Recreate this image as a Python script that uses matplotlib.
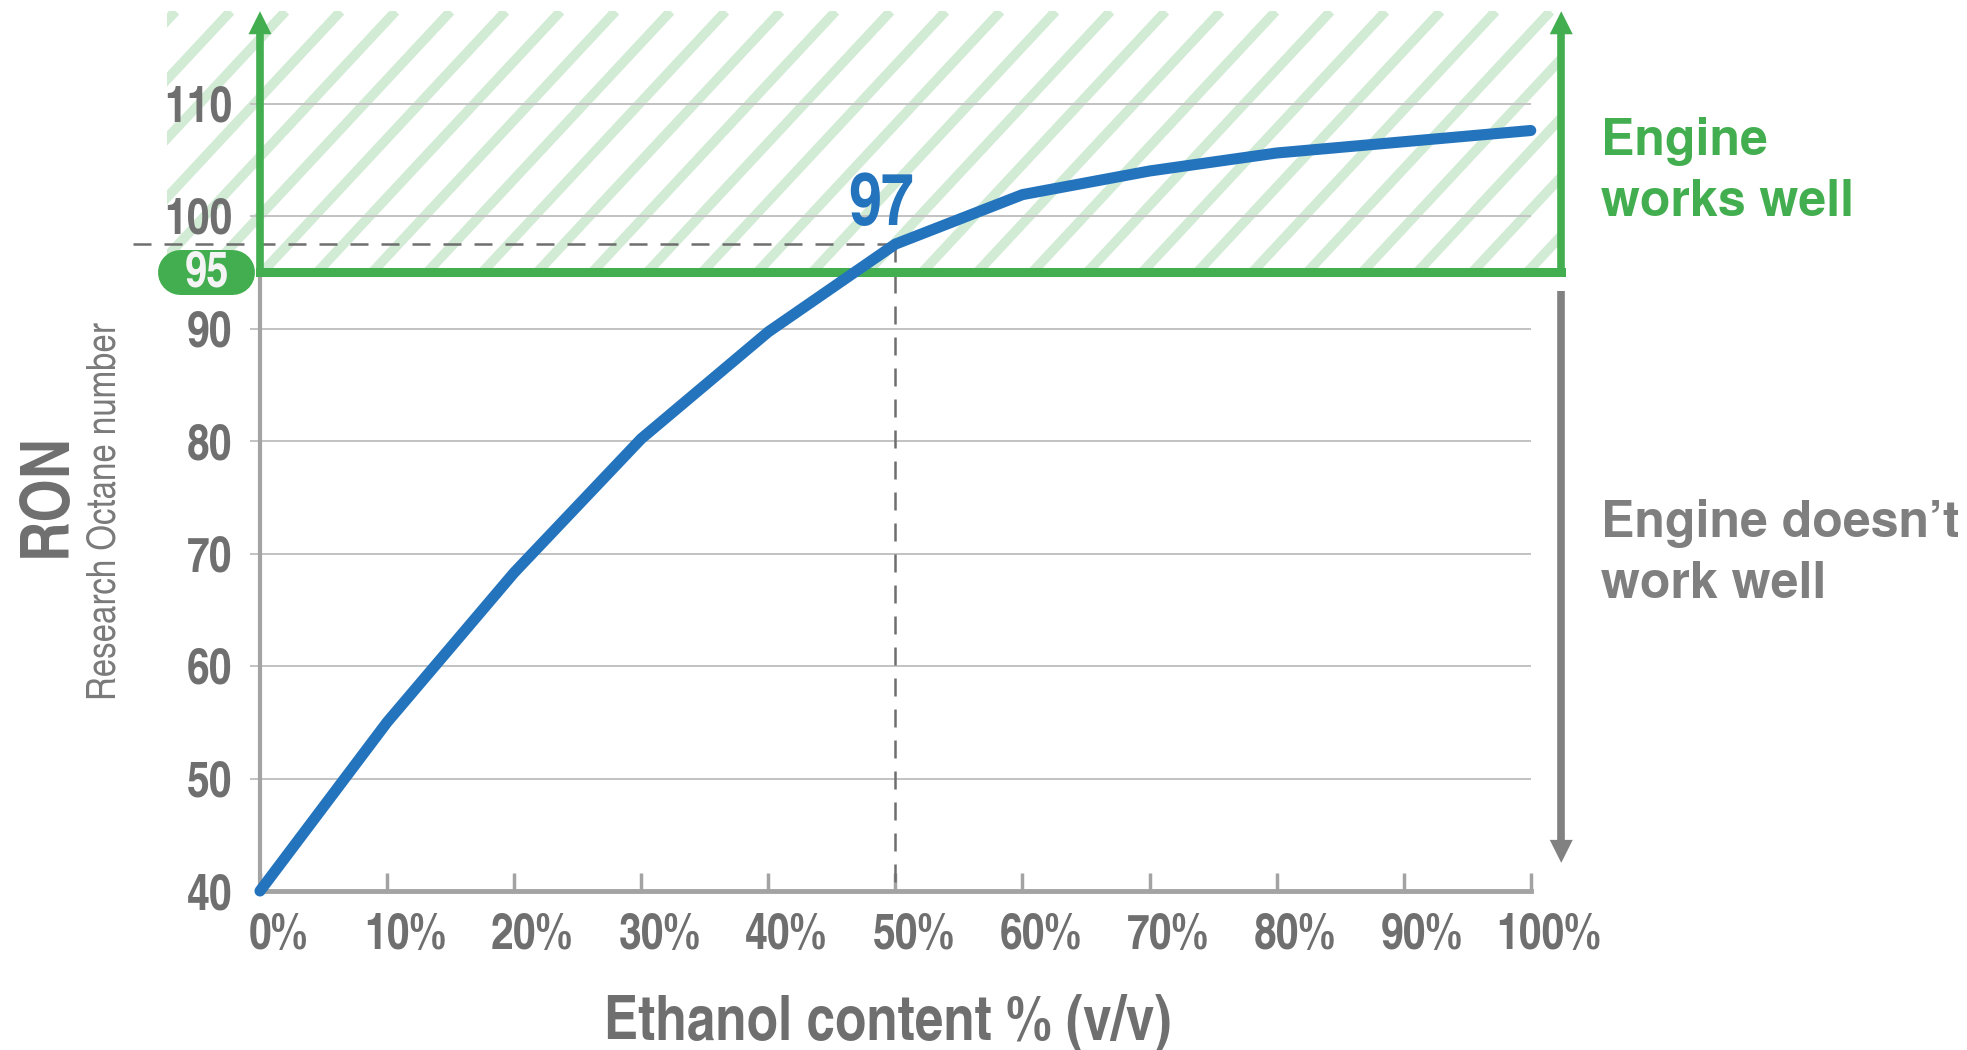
import numpy as np
import matplotlib
matplotlib.use('Agg')
import matplotlib.pyplot as plt
from matplotlib.patches import Rectangle, Polygon
from matplotlib.collections import LineCollection
from matplotlib.transforms import ScaledTranslation

# data
ethanol = [0, 10, 20, 30, 40, 50, 60, 70, 80, 90, 100]
ron = [40, 55, 68.3, 80.2, 89.7, 97.5, 101.9, 104.0, 105.6, 106.6, 107.6]
y_ticks = [40, 50, 60, 70, 80, 90, 100, 110]
x_ticks = [0, 10, 20, 30, 40, 50, 60, 70, 80, 90, 100]
x_labels = ['0%', '10%', '20%', '30%', '40%', '50%', '60%', '70%', '80%', '90%', '100%']
limite = 95          # minimum RON for the engine
limite_txt = '95'
e50_txt = '97'
i50 = 5              # index of the 50% point

GREEN = '#43ae4f'
HATCH = '#d2ebd4'
BLUE = '#2474bd'
TXT = '#6f6f6f'
AXIS = '#a3a3a3'
GRID = '#c2c2c2'
ARROW = '#818181'
DASH = '#6e6e6e'
NARROW = ['TeX Gyre Heros Cn', 'DejaVu Sans']
WIDE = ['TeX Gyre Heros', 'DejaVu Sans']

plt.rcParams['font.family'] = NARROW
plt.rcParams['font.weight'] = 'bold'

fig = plt.figure(figsize=(19.67, 10.5), dpi=100)
ax = fig.add_axes([107.5 / 1967, 136.5 / 1050, 1499.5 / 1967, 911.25 / 1050])
ax.set_xlim(-12, 106)
ax.set_ylim(38, 119)

# pixel scale of the data units (used for the decorations)
p = ax.transData.transform([(0, 40), (100, 110)])
sx = (p[1, 0] - p[0, 0]) / 100
sy = (p[1, 1] - p[0, 1]) / 70

for s in ['top', 'right']:
    ax.spines[s].set_visible(False)
ax.spines['left'].set_position(('data', 0))
ax.spines['left'].set_bounds(40, limite)
ax.spines['left'].set_color(AXIS)
ax.spines['left'].set_linewidth(3)
ax.spines['bottom'].set_position(('data', 40))
ax.spines['bottom'].set_bounds(0, 100)
ax.spines['bottom'].set_color(AXIS)
ax.spines['bottom'].set_linewidth(3.5)

ax.set_yticks(y_ticks)
ax.set_yticklabels([str(v) for v in y_ticks])
ax.set_xticks(x_ticks)
ax.set_xticklabels(x_labels)
ax.tick_params(axis='y', length=0, pad=20, labelsize=36, labelcolor=TXT)
ax.tick_params(axis='x', direction='in', length=13, width=2.5, color=AXIS,
               pad=16, labelsize=36, labelcolor=TXT)
for lab in ax.get_xticklabels():
    lab.set_transform(lab.get_transform() + ScaledTranslation(0.18, 0, fig.dpi_scale_trans))

# grid
ax.hlines(y_ticks[1:], -0.8, 100, color=GRID, lw=1.4, zorder=1.5)

# hatched "works well" zone
x0, x1, y0, y1 = -7.3, 102.4, limite, 118.2
W = (x1 - x0) * sx
H = (y1 - y0) * sy
run = H / np.tan(np.radians(47))
segs = []
for c in np.arange(40 - 55 * np.ceil(run / 55), W + 55, 55):
    segs.append([(x0 + c / sx, y0), (x0 + (c + run) / sx, y1)])
stripes = LineCollection(segs, colors=HATCH, linewidths=7, zorder=1)
ax.add_collection(stripes)
stripes.set_clip_path(Rectangle((x0, y0), x1 - x0, y1 - y0, transform=ax.transData))

# green frame with arrows
hw, hl = 11.5 / sx, 23 / sy
ax.plot([0, x1], [limite, limite], color=GREEN, lw=6.5, solid_capstyle='projecting', zorder=4)
for xa in [0, x1]:
    ax.plot([xa, xa], [limite, y1 - hl], color=GREEN, lw=5.5, solid_capstyle='butt', zorder=4)
    ax.add_patch(Polygon([(xa - hw, y1 - hl), (xa + hw, y1 - hl), (xa, y1)],
                         closed=True, color=GREEN, lw=0, zorder=4))

# gray arrow down
ax.plot([x1, x1], [93.3, 42.5 + hl], color=ARROW, lw=5.5, solid_capstyle='butt', zorder=4)
ax.add_patch(Polygon([(x1 - hw, 42.5 + hl), (x1 + hw, 42.5 + hl), (x1, 42.5)],
                     closed=True, color=ARROW, lw=0, zorder=4))

# dashed guides to the 50% point
ax.plot([-10, ethanol[i50]], [ron[i50], ron[i50]], color=DASH, lw=1.8,
        dashes=(7.2, 5.2), zorder=3, clip_on=False)
ax.plot([ethanol[i50], ethanol[i50]], [ron[i50], 39.8], color=DASH, lw=1.8,
        dashes=(7.2, 5.2), zorder=3, clip_on=False)

# curve
ax.plot(ethanol, ron, color=BLUE, lw=8, solid_capstyle='round',
        solid_joinstyle='round', zorder=6)

# 95 pill
ax.plot([-6.3, -2.2], [limite, limite], color=GREEN, lw=32.4,
        solid_capstyle='round', zorder=7, clip_on=False)
ax.text(-4.2, 93.7, limite_txt, ha='center', va='baseline', fontsize=35,
        color='#f4f4f4', zorder=8)

ax.text(48.9, 99.2, e50_txt, ha='center', va='baseline', fontsize=52, color=BLUE, zorder=8)

ax.text(105.5, 108.8, 'Engine\nworks well', ha='left', va='top', fontsize=36,
        family=WIDE, color=GREEN, linespacing=1.36)
ax.text(105.5, 74.84, 'Engine doesn’t\nwork well', ha='left', va='top', fontsize=36,
        family=WIDE, color='#7f7f7f', linespacing=1.36)

ax.text(49.4, 26.76, 'Ethanol content % (v/v)', ha='center', va='baseline',
        fontsize=45, color=TXT, clip_on=False)
ax.text(-15.3, 75.2, 'RON', rotation=90, rotation_mode='anchor', ha='center',
        va='baseline', fontsize=49, color=TXT)
ax.text(-11.4, 73.8, 'Research Octane number', rotation=90, rotation_mode='anchor',
        ha='center', va='baseline', fontsize=29, fontweight='normal', color='#7a7a7a')

fig.savefig('out.png', dpi=100)
